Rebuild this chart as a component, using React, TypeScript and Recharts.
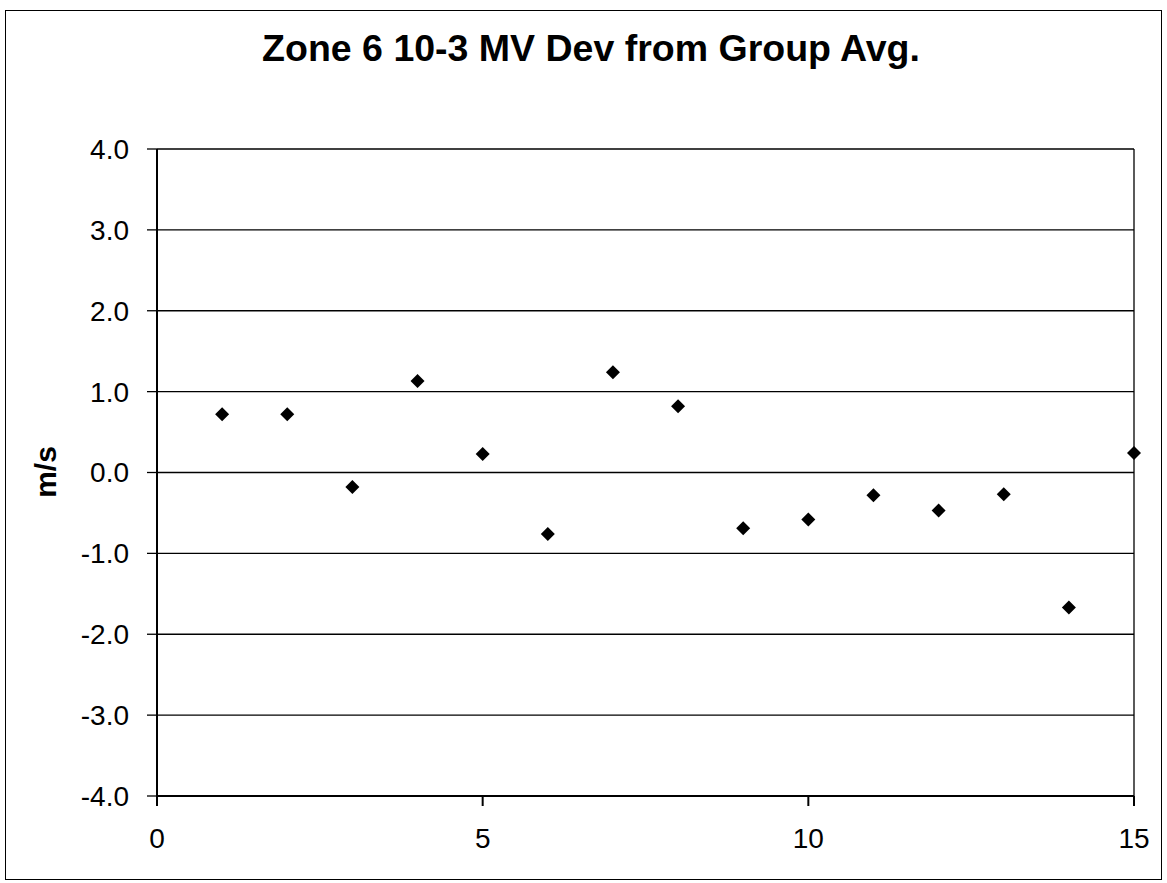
import React from 'react';
import { ScatterChart, Scatter, XAxis, YAxis, CartesianGrid, ReferenceLine } from 'recharts';

// point index along x, and deviation (m/s)
const pointIndex = [1, 2, 3, 4, 5, 6, 7, 8, 9, 10, 11, 12, 13, 14, 15];
const deviation = [0.72, 0.72, -0.18, 1.13, 0.23, -0.76, 1.24, 0.82, -0.69, -0.58, -0.28, -0.47, -0.27, -1.67, 0.24];
const xTicks = [0, 5, 10, 15];
const yTicks = [-4, -3, -2, -1, 0, 1, 2, 3, 4];

const data = pointIndex.map((x, i) => ({ x, y: deviation[i] }));

const font = '"Liberation Sans", Arial, sans-serif';

// filled black diamond, roughly 14px across like the Excel marker
const Diamond = (props: any) => {
  const { cx, cy } = props;
  const r = 7;
  return <path d={`M${cx},${cy - r}L${cx + r},${cy}L${cx},${cy + r}L${cx - r},${cy}Z`} fill="#000" />;
};

const AxisTitle = () => (
  <text
    x={45}
    y={472}
    transform="rotate(-90 45 472)"
    textAnchor="middle"
    dominantBaseline="central"
    fontFamily={font}
    fontSize={30}
    fontWeight="bold"
    fill="#000"
  >
    m/s
  </text>
);

const App: React.FC = () => {
  return (
    <div style={{ position: 'absolute', left: 0, top: 0, width: 1167, height: 883, background: '#fff' }}>
      {/* outer chart frame */}
      <div
        style={{
          position: 'absolute',
          left: 5,
          top: 10,
          width: 1157,
          height: 870,
          border: '1px solid #000',
          boxSizing: 'border-box',
        }}
      />
      <div
        style={{
          position: 'absolute',
          left: 0,
          top: 30,
          width: 1182,
          textAlign: 'center',
          fontFamily: font,
          fontWeight: 'bold',
          fontSize: 37.5,
          lineHeight: '37px',
          color: '#000',
        }}
      >
        Zone 6 10-3 MV Dev from Group Avg.
      </div>
      <ScatterChart
        width={1167}
        height={883}
        margin={{ top: 149, right: 33, bottom: 0, left: 0 }}
        style={{ position: 'absolute', left: 0, top: 0 }}
      >
        <CartesianGrid vertical={false} stroke="#000" strokeWidth={1.3} />
        <XAxis
          type="number"
          dataKey="x"
          domain={[0, 15]}
          ticks={xTicks}
          height={87}
          axisLine={{ stroke: '#000', strokeWidth: 2 }}
          tickLine={{ stroke: '#000', strokeWidth: 2 }}
          tickSize={10}
          tickMargin={22}
          tick={{ fill: '#000', fontFamily: font, fontSize: 28 }}
          interval={0}
        />
        <YAxis
          type="number"
          dataKey="y"
          domain={[-4, 4]}
          ticks={yTicks}
          width={157}
          axisLine={{ stroke: '#000', strokeWidth: 2 }}
          tickLine={{ stroke: '#000', strokeWidth: 1.3 }}
          tickSize={10}
          tickMargin={18}
          tickFormatter={(v: number) => v.toFixed(1)}
          tick={{ fill: '#000', fontFamily: font, fontSize: 28 }}
          interval={0}
          label={{ content: () => <AxisTitle /> }}
        />
        <ReferenceLine x={15} stroke="#000" strokeWidth={1.3} />
        <Scatter data={data} shape={<Diamond />} isAnimationActive={false} />
      </ScatterChart>
    </div>
  );
};

export default App;
